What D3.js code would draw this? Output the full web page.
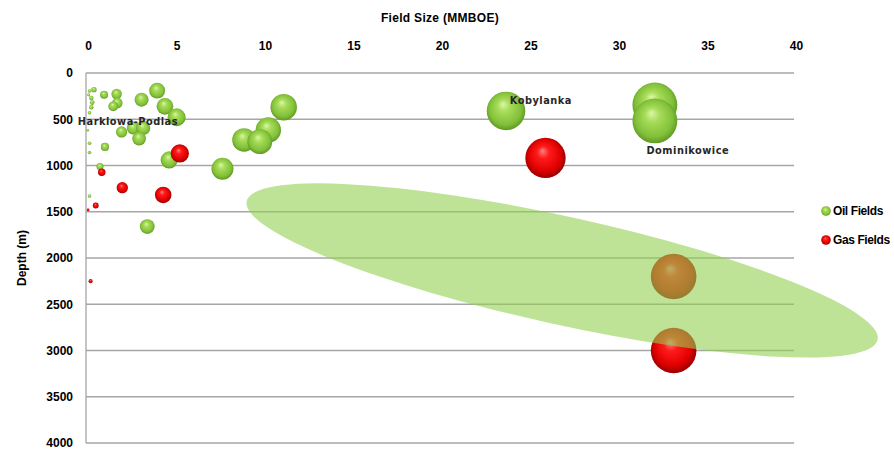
<!DOCTYPE html>
<html>
<head>
<meta charset="utf-8">
<script src="https://cdn.jsdelivr.net/npm/d3@7/dist/d3.min.js"></script>
<style>
  html, body { margin: 0; padding: 0; background: #fff; }
  svg { display: block; }
</style>
</head>
<body>
<script>
// Field size (MMBOE) and depth (m) of oil fields
const oilSize  = [0.45, 0.2, 0.15, 0.3, 0.35, 0.3, 0.2, 0.1, 0.2, 0.2, 0.2,
                  1.02, 1.73, 1.77, 1.54, 3.14, 4.02, 4.46, 5.12, 2.01, 2.67, 3.23, 3.0, 1.07,
                  4.7, 0.79, 3.46, 7.71, 8.93, 9.82, 10.3, 11.17, 23.73, 32.14, 32.14];
const oilDepth = [180, 195, 235, 270, 320, 370, 430, 620, 760, 860, 1330,
                  234, 227, 324, 360, 288, 191, 360, 478, 637, 594, 594, 709, 799,
                  940, 1012, 1660, 1034, 724, 742, 616, 370, 410, 346, 518];

// Field size (MMBOE) and depth (m) of gas fields
const gasSize  = [5.3, 0.89, 2.05, 4.36, 0.55, 0.12, 0.26, 25.96, 33.2, 33.2];
const gasDepth = [870, 1073, 1240, 1318, 1433, 1480, 2250, 918, 2200, 3000];

const xTicks = [0, 5, 10, 15, 20, 25, 30, 35, 40];
const yTicks = [0, 500, 1000, 1500, 2000, 2500, 3000, 3500, 4000];

const seriesNames = ["Oil Fields", "Gas Fields"];
const fieldNames  = ["Kobylanka", "Dominikowice", "Harklowa-Podlas"];
const nameSize    = [25.7, 34.0, 2.37];
const nameDepth   = [292, 842, 529];

const W = 894, H = 452;
const plot = { left: 86, right: 794, top: 73, bottom: 443 };

const svg = d3.select("body").append("svg").attr("width", W).attr("height", H);

const x = d3.scaleLinear().domain([0, 40]).range([plot.left, plot.right]);
const y = d3.scaleLinear().domain([0, 4000]).range([plot.top, plot.bottom]);
const r = d3.scaleSqrt().domain([0, 33.2]).range([0, 22.8]);

// sphere shading
const defs = svg.append("defs");
function sphere(id, stops) {
  const g = defs.append("radialGradient").attr("id", id)
    .attr("cx", "50%").attr("cy", "48%").attr("r", "55%")
    .attr("fx", "42%").attr("fy", "32%");
  stops.forEach(([o, c]) => g.append("stop").attr("offset", o).attr("stop-color", c));
}
sphere("oilBall", [["0%", "#dcf6a8"], ["30%", "#a6dc58"], ["75%", "#82c03a"], ["92%", "#66a026"], ["100%", "#5a8e20"]]);
sphere("gasBall", [["0%", "#ff8080"], ["28%", "#ff1a1a"], ["72%", "#e00000"], ["90%", "#a80000"], ["100%", "#8a0000"]]);

// gridlines
svg.append("g").selectAll("line").data(yTicks).join("line")
  .attr("x1", plot.left).attr("x2", plot.right)
  .attr("y1", d => y(d)).attr("y2", d => y(d))
  .attr("stroke", "#a6a6a6").attr("stroke-width", 1.3);
svg.append("line")
  .attr("x1", plot.left).attr("x2", plot.left)
  .attr("y1", plot.top).attr("y2", plot.bottom)
  .attr("stroke", "#a6a6a6").attr("stroke-width", 1.3);

// axes (labels only)
const tickFont = "'Liberation Sans', Arial, sans-serif";
const xAxis = d3.axisTop(x).tickValues(xTicks).tickFormat(d3.format("d")).tickSize(0).tickPadding(0);
const gx = svg.append("g").attr("transform", `translate(2,${plot.top - 27})`).call(xAxis);
gx.select(".domain").remove();
gx.selectAll("text").attr("font-family", tickFont).attr("font-weight", "bold")
  .attr("font-size", 12).attr("fill", "#000").attr("dy", "0.32em");

const yAxis = d3.axisLeft(y).tickValues(yTicks).tickFormat(d3.format("d")).tickSize(0).tickPadding(0);
const gy = svg.append("g").attr("transform", `translate(${plot.left - 13},0)`).call(yAxis);
gy.select(".domain").remove();
gy.selectAll("text").attr("font-family", tickFont).attr("font-weight", "bold")
  .attr("font-size", 12).attr("fill", "#000").attr("dy", "0.32em");

// axis titles
svg.append("text").attr("x", (plot.left + plot.right) / 2).attr("y", 18)
  .attr("text-anchor", "middle").attr("dominant-baseline", "central")
  .attr("font-family", tickFont).attr("font-weight", "bold").attr("font-size", 12)
  .attr("letter-spacing", 0.3)
  .text("Field Size (MMBOE)");
svg.append("text")
  .attr("transform", `translate(22,${(plot.top + plot.bottom) / 2}) rotate(-90)`)
  .attr("text-anchor", "middle").attr("dominant-baseline", "central")
  .attr("font-family", tickFont).attr("font-weight", "bold").attr("font-size", 12)
  .text("Depth (m)");

// bubbles
function bubbles(sizes, depths, fill) {
  const data = sizes.map((s, i) => ({ s, d: depths[i] }))
    .sort((a, b) => a.d - b.d);
  svg.append("g").selectAll("circle").data(data).join("circle")
    .attr("cx", d => x(d.s)).attr("cy", d => y(d.d)).attr("r", d => r(d.s))
    .attr("fill", fill);
}
bubbles(oilSize, oilDepth, "url(#oilBall)");
bubbles(gasSize, gasDepth, "url(#gasBall)");

// field names
svg.append("g").selectAll("text").data(fieldNames).join("text")
  .attr("x", (d, i) => x(nameSize[i])).attr("y", (d, i) => y(nameDepth[i]))
  .attr("text-anchor", "middle").attr("dominant-baseline", "central")
  .attr("font-family", "'DejaVu Sans', Verdana, sans-serif").attr("font-weight", "bold")
  .attr("font-size", 9.8).attr("fill", "#262626").attr("letter-spacing", 0.5)
  .text(d => d);

// highlighted deep trend zone
const zone = { size: 26.9, depth: 2135, rx: 323, ry: 54, angle: 12.4 };
svg.append("ellipse")
  .attr("transform", `translate(${x(zone.size)},${y(zone.depth)}) rotate(${zone.angle})`)
  .attr("rx", zone.rx).attr("ry", zone.ry)
  .attr("fill", "#92d050").attr("fill-opacity", 0.6);

// legend
const legend = svg.append("g").selectAll("g").data(seriesNames).join("g")
  .attr("transform", (d, i) => `translate(826,${211 + i * 29})`);
legend.append("circle").attr("r", 4.8)
  .attr("fill", (d, i) => i === 0 ? "url(#oilBall)" : "url(#gasBall)");
legend.append("text").attr("x", 7).attr("dominant-baseline", "central")
  .attr("font-family", tickFont).attr("font-weight", "bold").attr("font-size", 12)
  .attr("letter-spacing", -0.4)
  .text(d => d);
</script>
</body>
</html>
